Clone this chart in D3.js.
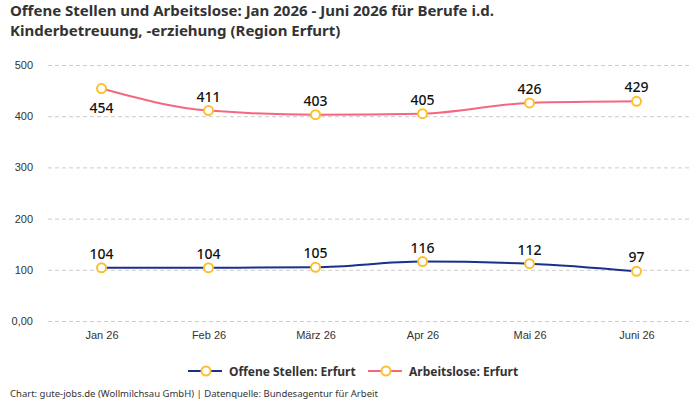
<!DOCTYPE html>
<html lang="de">
<head>
<meta charset="UTF-8">
<title>Offene Stellen und Arbeitslose</title>
<style>
body { margin: 0; background: #fff; font-family: "Noto Sans", sans-serif; }
.title { font-size: 15px; font-weight: 700; fill: #333; }
.tick text { font-size: 11px; fill: #333; }
.grid line { stroke: #ccc; stroke-dasharray: 4,3; }
.val { font-size: 14px; font-weight: 500; fill: #111; text-anchor: middle; }
.legend text { font-size: 12px; font-weight: 700; fill: #333; }
.footer { font-size: 9.5px; fill: #333; }
</style>
<script src="https://d3js.org/d3.v7.min.js"></script>
</head>
<body>
<div id="chart"></div>
<script>
const months = ["Jan 26", "Feb 26", "März 26", "Apr 26", "Mai 26", "Juni 26"];
const offeneStellen = [104, 104, 105, 116, 112, 97];
const arbeitslose = [454, 411, 403, 405, 426, 429];
const yTicks = [0, 100, 200, 300, 400, 500];

const width = 700, height = 400;
const svg = d3.select("#chart").append("svg")
    .attr("width", width)
    .attr("height", height);

svg.append("text").attr("class", "title").attr("x", 10).attr("y", 15.5)
    .text("Offene Stellen und Arbeitslose: Jan 2026 - Juni 2026 für Berufe i.d.");
svg.append("text").attr("class", "title").attr("x", 10).attr("y", 36)
    .text("Kinderbetreuung, -erziehung (Region Erfurt)");

const x = d3.scalePoint().domain(months).range([48, 690]).padding(0.5);
const y = d3.scaleLinear().domain([0, 500]).range([321, 65]);

// grid + y labels
const yAxis = svg.append("g")
    .attr("class", "grid")
    .attr("transform", "translate(48,0)")
    .call(d3.axisLeft(y).tickValues(yTicks).tickSize(-642)
        .tickFormat(d => d === 0 ? "0,00" : d));
yAxis.select(".domain").remove();
yAxis.selectAll("text").attr("x", -15);

const xAxis = svg.append("g")
    .attr("transform", "translate(0,321)")
    .call(d3.axisBottom(x).tickSize(0).tickPadding(10));
xAxis.select(".domain").remove();

const line = d3.line()
    .x((d, i) => x(months[i]))
    .y(d => y(d))
    .curve(d3.curveMonotoneX);

const series = [
    {name: "Offene Stellen: Erfurt", values: offeneStellen, color: "#1b2f8c"},
    {name: "Arbeitslose: Erfurt", values: arbeitslose, color: "#f7667f"}
];

series.forEach(s => {
    svg.append("path")
        .attr("d", line(s.values))
        .attr("fill", "none")
        .attr("stroke", s.color)
        .attr("stroke-width", 2);

    svg.selectAll(null).data(s.values).enter().append("circle")
        .attr("cx", (d, i) => x(months[i]))
        .attr("cy", d => y(d))
        .attr("r", 4.5)
        .attr("fill", "#fff")
        .attr("stroke", "#fbc02d")
        .attr("stroke-width", 2);

    svg.selectAll(null).data(s.values).enter().append("text")
        .attr("class", "val")
        .attr("x", (d, i) => x(months[i]))
        .attr("y", d => d > 440 ? y(d) + 24 : y(d) - 9)
        .text(d => d);
});

// legend
const legendX = [188, 368];
series.forEach((s, i) => {
    const g = svg.append("g").attr("class", "legend")
        .attr("transform", `translate(${legendX[i]},371)`);
    g.append("line").attr("x1", 0).attr("x2", 34)
        .attr("stroke", s.color).attr("stroke-width", 2);
    g.append("circle").attr("cx", 18).attr("r", 4.5)
        .attr("fill", "#fff").attr("stroke", "#fbc02d").attr("stroke-width", 2);
    g.append("text").attr("x", 41).attr("y", 4.5).text(s.name);
});

svg.append("text").attr("class", "footer").attr("x", 10).attr("y", 397)
    .text("Chart: gute-jobs.de (Wollmilchsau GmbH) | Datenquelle: Bundesagentur für Arbeit");
</script>
</body>
</html>
